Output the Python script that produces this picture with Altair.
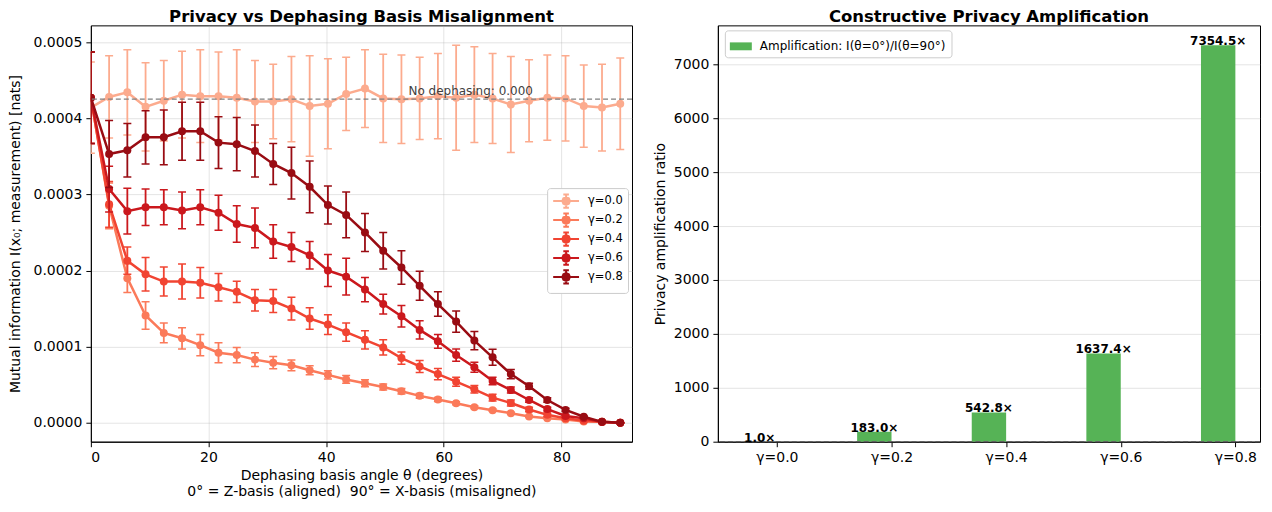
import json
import altair as alt
import pandas as pd

FONT = "DejaVu Sans"

# ---------------- data ----------------
THETA = [0.0, 3.1, 6.2, 9.3, 12.4, 15.5, 18.6, 21.7, 24.8, 27.9, 31.0, 34.1, 37.2, 40.3, 43.4,
         46.6, 49.7, 52.8, 55.9, 59.0, 62.1, 65.2, 68.3, 71.4, 74.5, 77.6, 80.7, 83.8, 86.9, 90.0]
GAMMA_LABELS = ["γ=0.0", "γ=0.2", "γ=0.4", "γ=0.6", "γ=0.8"]
COLORS = ["#fcab8e", "#fb7a5a", "#f14432", "#cb181d", "#990c13"]

# mutual information, in units of 1e-4 nats
MI_G00 = [4.14, 4.28, 4.34, 4.15, 4.23, 4.31, 4.29, 4.29, 4.27, 4.22, 4.22, 4.25, 4.16, 4.19, 4.32,
          4.39, 4.26, 4.25, 4.26, 4.29, 4.27, 4.31, 4.26, 4.18, 4.23, 4.27, 4.26, 4.16, 4.14, 4.19]
MI_G02 = [4.27, 2.85, 1.90, 1.41, 1.18, 1.11, 1.02, 0.92, 0.89, 0.83, 0.79, 0.755, 0.69, 0.63, 0.57,
          0.52, 0.47, 0.415, 0.354, 0.306, 0.258, 0.205, 0.166, 0.127, 0.083, 0.061, 0.044, 0.017, 0.013, 0.0]
MI_G04 = [4.27, 2.87, 2.13, 1.95, 1.855, 1.855, 1.84, 1.78, 1.72, 1.61, 1.60, 1.50, 1.37, 1.29, 1.19,
          1.09, 0.99, 0.85, 0.74, 0.64, 0.54, 0.44, 0.33, 0.26, 0.175, 0.105, 0.06, 0.026, 0.013, 0.0]
MI_G06 = [4.27, 3.07, 2.78, 2.83, 2.83, 2.79, 2.83, 2.76, 2.61, 2.56, 2.38, 2.31, 2.20, 2.00, 1.92,
          1.75, 1.56, 1.40, 1.22, 1.07, 0.89, 0.73, 0.55, 0.43, 0.30, 0.18, 0.09, 0.06, 0.01, 0.0]
MI_G08 = [4.27, 3.53, 3.58, 3.75, 3.75, 3.83, 3.83, 3.68, 3.66, 3.57, 3.40, 3.28, 3.10, 2.86, 2.73,
          2.50, 2.26, 2.04, 1.80, 1.56, 1.33, 1.08, 0.86, 0.64, 0.48, 0.30, 0.17, 0.08, 0.013, 0.0]

ERR_G00 = [0.60, 0.54, 0.56, 0.58, 0.53, 0.57, 0.61, 0.58, 0.63, 0.54, 0.49, 0.56, 0.66, 0.59, 0.48,
           0.51, 0.58, 0.58, 0.54, 0.56, 0.69, 0.63, 0.59, 0.63, 0.54, 0.56, 0.56, 0.54, 0.57, 0.60]
ERR_G02 = [0.60, 0.30, 0.19, 0.18, 0.13, 0.14, 0.14, 0.13, 0.10, 0.09, 0.08, 0.07, 0.06, 0.055, 0.05,
           0.045, 0.04, 0.035, 0.03, 0.025, 0.02, 0.018, 0.015, 0.012, 0.01, 0.008, 0.006, 0.004, 0.003, 0.001]
ERR_G04 = [0.60, 0.30, 0.18, 0.22, 0.19, 0.23, 0.20, 0.18, 0.14, 0.14, 0.15, 0.15, 0.14, 0.13, 0.12,
           0.12, 0.10, 0.08, 0.08, 0.075, 0.06, 0.05, 0.045, 0.04, 0.03, 0.025, 0.02, 0.012, 0.008, 0.002]
ERR_G06 = [0.60, 0.30, 0.30, 0.24, 0.23, 0.24, 0.23, 0.23, 0.24, 0.26, 0.22, 0.19, 0.18, 0.21, 0.24,
           0.16, 0.13, 0.14, 0.12, 0.09, 0.08, 0.065, 0.05, 0.04, 0.03, 0.025, 0.02, 0.012, 0.006, 0.002]
ERR_G08 = [0.60, 0.44, 0.35, 0.35, 0.36, 0.38, 0.38, 0.34, 0.35, 0.34, 0.27, 0.34, 0.34, 0.25, 0.30,
           0.25, 0.24, 0.22, 0.19, 0.16, 0.14, 0.12, 0.105, 0.06, 0.04, 0.03, 0.02, 0.01, 0.005, 0.002]

MI_SCALE = 1e-4
NO_DEPH = 4.25e-4
NO_DEPH_TEXT = "No dephasing: 0.000"
ANNOT_THETA = 54

AMP = [1.0, 183.0, 542.8, 1637.4, 7354.5]
AMP_LEGEND = "Amplification: I(θ=0°)/I(θ=90°)"
BAR_COLOR = "#56b356"

# ---------------- tables ----------------
MI_ALL = [MI_G00, MI_G02, MI_G04, MI_G06, MI_G08]
ERR_ALL = [ERR_G00, ERR_G02, ERR_G04, ERR_G06, ERR_G08]
rows = []
for lab, vals, errs in zip(GAMMA_LABELS, MI_ALL, ERR_ALL):
    for t, v, e in zip(THETA, vals, errs):
        rows.append({"theta": t, "g": lab, "mi": v * MI_SCALE,
                     "lo": (v - e) * MI_SCALE, "hi": (v + e) * MI_SCALE})
df = pd.DataFrame(rows)

bars_df = pd.DataFrame({
    "pos": list(range(len(AMP))),
    "amp": AMP,
    "txt": [f"{v:.1f}×" for v in AMP],
    "series": [AMP_LEGEND] * len(AMP),
})

# ---------------- left panel ----------------
cscale = alt.Scale(domain=GAMMA_LABELS, range=COLORS)
xs = alt.Scale(domain=[0, 92], nice=False, zero=False)
ys = alt.Scale(domain=[-0.0000248, 0.000522], nice=False, zero=False)

x_axis = alt.Axis(values=[0, 20, 40, 60, 80], grid=True,
                  title=["Dephasing basis angle θ (degrees)",
                         "0° = Z-basis (aligned)\u00a0 90° = X-basis (misaligned)"],
                  titleLineHeight=16, titlePadding=4)
y_axis = alt.Axis(values=[0, 0.0001, 0.0002, 0.0003, 0.0004, 0.0005], format=".4f", grid=True,
                  title="Mutual information I(x₀; measurement) [nats]", titlePadding=10)

# legend handle: line + error bar with caps + marker (concentric octagons, stroked)
LEG_SYMBOL = ("M-1.85,0H1.85M0,-0.95V0.95M-0.4,-0.95H0.4M-0.4,0.95H0.4"
              "M0.55,0L0.39,0.39L0,0.55L-0.39,0.39L-0.55,0L-0.39,-0.39L0,-0.55L0.39,-0.39Z"
              "M0.3,0L0.21,0.21L0,0.3L-0.21,0.21L-0.3,0L-0.21,-0.21L0,-0.3L0.21,-0.21Z"
              "M0.1,0L0,0.1L-0.1,0L0,-0.1Z")
legend_left = alt.Legend(title=None, orient="none", legendX=457, legendY=163,
                         symbolType=LEG_SYMBOL, symbolSize=196, symbolStrokeWidth=2,
                         symbolOffset=6,
                         labelFontSize=11.5, labelFont=FONT, labelColor="black",
                         fillColor="white", strokeColor="#cccccc", cornerRadius=3,
                         padding=5, labelOffset=14, rowPadding=-6)

layers = []
for lab in GAMMA_LABELS:
    base = alt.Chart(df).transform_filter(alt.datum.g == lab)
    col = alt.Color("g:N", scale=cscale, legend=legend_left)
    err_rule = base.mark_rule(strokeWidth=1.8, clip=True).encode(
        x=alt.X("theta:Q", scale=xs, axis=x_axis),
        y=alt.Y("lo:Q", scale=ys, axis=y_axis), y2="hi:Q", color=col)
    cap_lo = base.mark_tick(orient="horizontal", size=8, thickness=1.5, clip=True, opacity=1).encode(
        x=alt.X("theta:Q", scale=xs, axis=x_axis),
        y=alt.Y("lo:Q", scale=ys, axis=y_axis), color=col)
    cap_hi = base.mark_tick(orient="horizontal", size=8, thickness=1.5, clip=True, opacity=1).encode(
        x=alt.X("theta:Q", scale=xs, axis=x_axis),
        y=alt.Y("hi:Q", scale=ys, axis=y_axis), color=col)
    line = base.mark_line(strokeWidth=2.5, clip=True).encode(
        x=alt.X("theta:Q", scale=xs, axis=x_axis),
        y=alt.Y("mi:Q", scale=ys, axis=y_axis), color=col)
    pts = base.mark_point(filled=True, size=64, opacity=1, clip=True).encode(
        x=alt.X("theta:Q", scale=xs, axis=x_axis),
        y=alt.Y("mi:Q", scale=ys, axis=y_axis), color=col)
    layers += [err_rule, cap_lo, cap_hi, line, pts]

ref_df = pd.DataFrame({"y": [NO_DEPH], "tx": [ANNOT_THETA], "label": [NO_DEPH_TEXT]})
ref_line = alt.Chart(ref_df).mark_rule(color="#808080", strokeDash=[5, 3], strokeWidth=1.3).encode(
    y=alt.Y("y:Q", scale=ys, axis=y_axis))
ref_text = alt.Chart(ref_df).mark_text(align="left", baseline="alphabetic", dy=-4, fontSize=12,
                                       font=FONT, color="#404040").encode(
    x=alt.X("tx:Q", scale=xs, axis=x_axis), y=alt.Y("y:Q", scale=ys, axis=y_axis), text="label:N")

left = alt.layer(*layers, ref_line, ref_text).properties(
    width=542, height=417,
    title=alt.TitleParams("Privacy vs Dephasing Basis Misalignment", fontSize=16.5, fontWeight="bold",
                          font=FONT, offset=0, color="black"))

# ---------------- right panel ----------------
bx = alt.Scale(domain=[-0.515, 4.215], nice=False, zero=False)
by = alt.Scale(domain=[0, 7722], nice=False, zero=False)
label_expr = json.dumps(GAMMA_LABELS, ensure_ascii=False) + "[datum.value]"
bx_axis = alt.Axis(values=[0, 1, 2, 3, 4], labelExpr=label_expr, title=None, grid=False)
by_axis = alt.Axis(values=[0, 1000, 2000, 3000, 4000, 5000, 6000, 7000], format="d", grid=True,
                   title="Privacy amplification ratio", titlePadding=6)

RECT_SYMBOL = "M-1,-0.36H1V0.36H-1Z"
legend_right = alt.Legend(title=None, orient="none", legendX=7, legendY=5,
                          symbolType=RECT_SYMBOL, symbolSize=484, symbolStrokeWidth=0,
                          labelFontSize=12, labelFont=FONT, labelColor="black", labelLimit=500,
                          fillColor="white", strokeColor="#cccccc", cornerRadius=3,
                          padding=5, labelOffset=8)

bbase = alt.Chart(bars_df).transform_calculate(x0="datum.pos - 0.3", xc="datum.pos - 0.15")
bars = bbase.mark_bar(opacity=1).encode(
    x=alt.X("x0:Q", scale=bx, axis=bx_axis), x2="pos:Q",
    y=alt.Y("amp:Q", scale=by, axis=by_axis), y2=alt.datum(0),
    fill=alt.Fill("series:N", scale=alt.Scale(domain=[AMP_LEGEND], range=[BAR_COLOR]),
                  legend=legend_right))
bar_text = bbase.mark_text(baseline="alphabetic", dy=0, fontSize=12, fontWeight="bold",
                           font=FONT, color="black").encode(
    x=alt.X("xc:Q", scale=bx, axis=bx_axis), y=alt.Y("amp:Q", scale=by, axis=by_axis), text="txt:N")
one_df = pd.DataFrame({"y": [1.0]})
one_line = alt.Chart(one_df).mark_rule(color="#606060", strokeDash=[5, 3], strokeWidth=1.3).encode(
    y=alt.Y("y:Q", scale=by, axis=by_axis))

right = alt.layer(bars, one_line, bar_text).properties(
    width=543, height=417,
    title=alt.TitleParams("Constructive Privacy Amplification", fontSize=16.5, fontWeight="bold",
                          font=FONT, offset=0, color="black"))

chart = alt.hconcat(left, right, spacing=18).resolve_scale(
    color="independent", fill="independent"
).properties(
    padding={"left": 0, "top": 0, "right": 2, "bottom": 0}
).configure_view(
    stroke="black", strokeWidth=1
).configure_axis(
    labelFont=FONT, titleFont=FONT, labelFontSize=14, titleFontSize=14,
    labelColor="black", titleColor="black", titleFontWeight="normal",
    domainColor="black", tickColor="black", tickSize=5, tickWidth=1,
    labelPadding=4, gridColor="#b0b0b0", gridOpacity=0.35, gridWidth=1
).configure_text(font=FONT)

chart.save("out.html", embed_options={"renderer": "svg", "actions": False})
